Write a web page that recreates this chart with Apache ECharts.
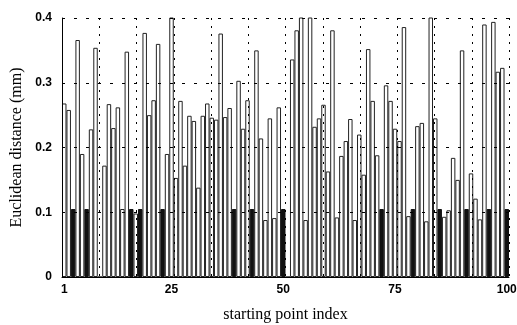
<!DOCTYPE html>
<html>
<head>
<meta charset="utf-8">
<script src="https://cdn.jsdelivr.net/npm/echarts@6/dist/echarts.min.js"></script>
<style>
  html, body { margin: 0; padding: 0; background: #fff; }
  #chart { width: 517px; height: 325px; }
</style>
</head>
<body>
<div id="chart"></div>
<script>
// starting point indices 1..100
const pointIndex = Array.from({ length: 100 }, (_, i) => String(i + 1));

// Euclidean distance (mm) per starting point (values above 0.4 are clipped in the plot)
const distance = [
  0.268, 0.258, 0.105, 0.366, 0.190, 0.105, 0.228, 0.354, 0.000, 0.172,
  0.267, 0.230, 0.262, 0.105, 0.348, 0.105, 0.098, 0.105, 0.377, 0.250,
  0.273, 0.360, 0.105, 0.190, 0.450, 0.153, 0.272, 0.172, 0.249, 0.241,
  0.138, 0.249, 0.268, 0.246, 0.243, 0.376, 0.247, 0.261, 0.105, 0.303,
  0.229, 0.273, 0.105, 0.350, 0.214, 0.088, 0.245, 0.091, 0.262, 0.105,
  0.000, 0.336, 0.381, 0.450, 0.088, 0.450, 0.232, 0.245, 0.266, 0.163,
  0.381, 0.092, 0.187, 0.210, 0.244, 0.088, 0.220, 0.158, 0.352, 0.272,
  0.188, 0.105, 0.296, 0.272, 0.229, 0.210, 0.386, 0.094, 0.105, 0.233,
  0.238, 0.086, 0.450, 0.245, 0.105, 0.093, 0.103, 0.184, 0.150, 0.350,
  0.105, 0.160, 0.121, 0.089, 0.390, 0.105, 0.394, 0.317, 0.323, 0.105
];

// starting points drawn as filled (black) bars
const blackPoints = [3, 6, 16, 18, 23, 39, 43, 50, 72, 79, 85, 91, 96, 100];

// tick labels
const xTickLabels = ['1', '25', '50', '75', '100'];
const yTicks = [0, 0.1, 0.2, 0.3, 0.4];

const chart = echarts.init(document.getElementById('chart'), null, { renderer: 'canvas' });

const whiteData = distance.map((v, i) => (blackPoints.includes(i + 1) ? null : v));
const blackData = distance.map((v, i) => (blackPoints.includes(i + 1) ? v : null));

chart.setOption({
  animation: false,
  backgroundColor: '#fff',
  grid: { left: 62, right: 8, top: 18, bottom: 48, containLabel: false, outerBoundsMode: 'none' },
  xAxis: [
    {
      type: 'category',
      data: pointIndex,
      boundaryGap: true,
      z: 10,
      axisLine: { show: true, lineStyle: { color: '#000', width: 1 } },
      axisTick: { show: false },
      splitLine: { show: false },
      axisLabel: {
        interval: (idx, val) => xTickLabels.includes(val),
        color: '#000',
        fontFamily: 'Liberation Sans',
        fontWeight: 'bold',
        fontSize: 12,
        margin: 7
      },
      name: 'starting point index',
      nameLocation: 'middle',
      nameGap: 30,
      nameTextStyle: { fontFamily: 'Liberation Serif', fontSize: 16, color: '#000' }
    },
    {
      type: 'value',
      min: 0, max: 12, interval: 1,
      position: 'top',
      z: 10,
      axisLine: { show: false },
      axisTick: { show: false },
      axisLabel: { show: false },
      splitLine: { show: true, lineStyle: { color: '#000', width: 1, type: [2, 6] } }
    }
  ],
  yAxis: {
    type: 'value',
    min: yTicks[0],
    max: yTicks[yTicks.length - 1],
    interval: 0.1,
    z: 10,
    axisLine: { show: true, lineStyle: { color: '#000', width: 1 } },
    axisTick: { show: false },
    splitLine: { show: true, lineStyle: { color: '#000', width: 1, type: [3, 9] } },
    axisLabel: {
      color: '#000',
      fontFamily: 'Liberation Sans',
      fontWeight: 'bold',
      fontSize: 12,
      margin: 10,
      formatter: v => (v === 0 ? '0' : v.toFixed(1))
    },
    name: 'Euclidean distance (mm)',
    nameLocation: 'middle',
    nameGap: 36,
    nameTextStyle: { fontFamily: 'Liberation Serif', fontSize: 16, color: '#000' }
  },
  series: [
    {
      type: 'bar',
      xAxisIndex: 0,
      data: whiteData,
      barCategoryGap: '0%',
      barGap: '-100%',
      clip: true,
      itemStyle: { color: '#fff', borderColor: '#222', borderWidth: 1 }
    },
    {
      type: 'bar',
      xAxisIndex: 0,
      data: blackData,
      barCategoryGap: '0%',
      barGap: '-100%',
      clip: true,
      itemStyle: { color: '#111', borderColor: '#111', borderWidth: 1 }
    }
  ]
});
</script>
</body>
</html>
